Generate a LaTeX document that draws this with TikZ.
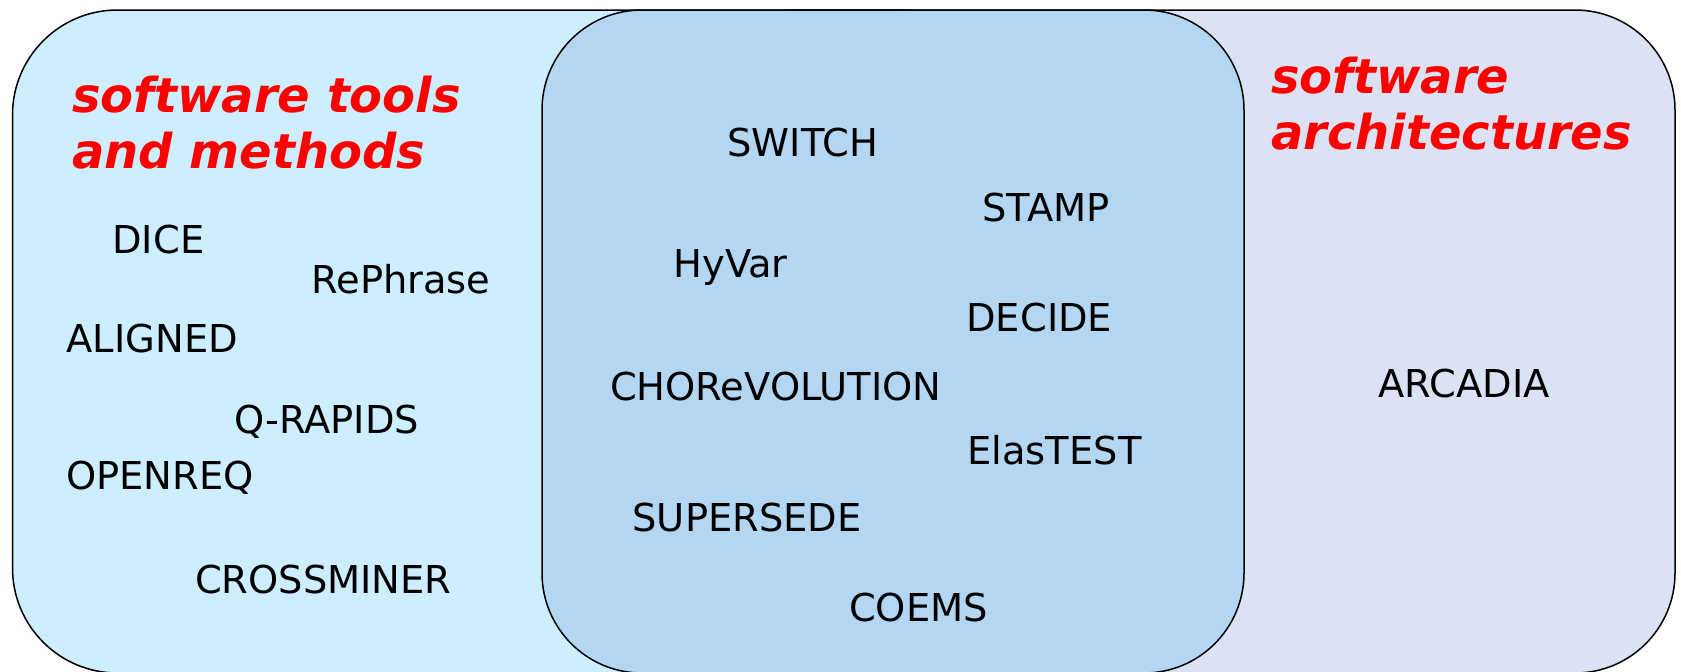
\documentclass[tikz,border=0pt]{standalone}
\usepackage{fontspec}
\setmainfont{DejaVu Sans}
\definecolor{toolfill}{RGB}{204,238,255}
\definecolor{bothfill}{RGB}{179,215,243}
\definecolor{archfill}{RGB}{218,226,244}
\definecolor{titlered}{RGB}{255,0,0}
\tikzset{
  setbox/.style={draw=black, line width=0.75pt, rounded corners=#1},
  lbl/.style={anchor=base west, inner sep=0pt, outer sep=0pt, text=black,
    font=\fontsize{19.2pt}{23pt}\selectfont},
  ttl/.style={anchor=base west, inner sep=0pt, outer sep=0pt, text=titlered, align=left,
    font=\fontsize{24pt}{28pt}\selectfont\bfseries\itshape},
}
\begin{document}
\begin{tikzpicture}[x=0.5pt,y=-0.5pt]
\clip (0,0) rectangle (1681,671);
\fill[white] (0,0) rectangle (1681,671);
% sets
\path[setbox=52.5pt, fill=toolfill] (12.5,10) rectangle (1000,673);
\path[setbox=50pt, fill=archfill] (700,10) rectangle (1675,673);
\path[setbox=50pt, fill=bothfill] (542,10) rectangle (1244,673);
% titles (anchored at the baseline of their last line)
\node[ttl] (ttools) at (72,168) {software tools\\and methods};
\node[ttl] (tarch) at (1271,149) {software\\architectures};
% left set
\node[lbl] (dice) at (112.4,253) {DICE};
\node[lbl] (rephrase) at (311.4,293) {RePhrase};
\node[lbl] (aligned) at (66.7,352) {ALIGNED};
\node[lbl] (qrapids) at (234,433) {Q-RAPIDS};
\node[lbl] (openreq) at (66,489) {OPENREQ};
\node[lbl] (crossminer) at (195,593) {CROSSMINER};
% middle set
\node[lbl] (switch) at (727.6,156) {SWITCH};
\node[lbl] (stamp) at (982.6,221) {STAMP};
\node[lbl] (hyvar) at (673.4,277) {HyVar};
\node[lbl] (decide) at (966.4,331) {DECIDE};
\node[lbl] (chor) at (610,400) {CHOReVOLUTION};
\node[lbl] (elastest) at (967.4,464) {ElasTEST};
\node[lbl] (supersede) at (632.6,531) {SUPERSEDE};
\node[lbl] (coems) at (849,621) {COEMS};
% right set
\node[lbl] (arcadia) at (1378.7,397) {ARCADIA};
\end{tikzpicture}
\end{document}
